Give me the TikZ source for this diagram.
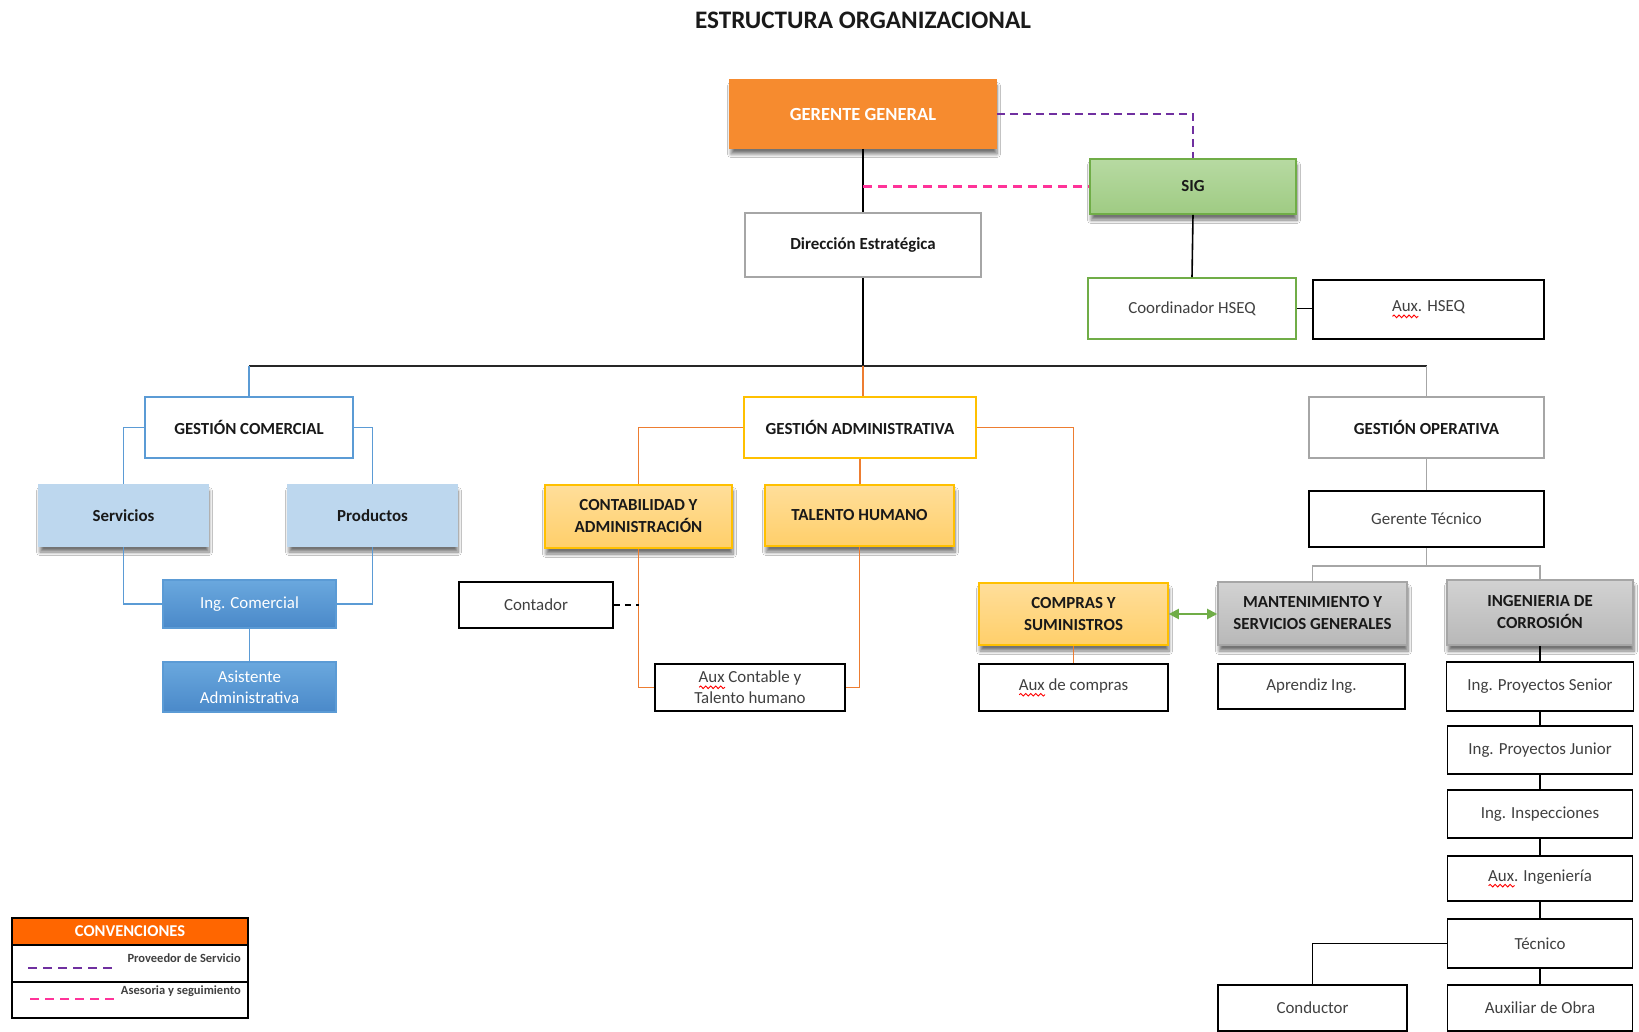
\documentclass[tikz,border=0pt]{standalone}
\usepackage{fontspec}
\setmainfont{Carlito}
\usetikzlibrary{shadows,shadows.blur,decorations.pathmorphing,arrows.meta}
\definecolor{gOrange}{HTML}{F68B2F}
\definecolor{sigTop}{HTML}{B7DAA2}
\definecolor{sigBot}{HTML}{9FCB83}
\definecolor{sigBorder}{HTML}{70AD47}
\definecolor{blueB}{HTML}{5B9BD5}
\definecolor{lightBlue}{HTML}{BDD7EE}
\definecolor{blueTop}{HTML}{6AA8DE}
\definecolor{blueBot}{HTML}{4A89C9}
\definecolor{gold}{HTML}{FFC000}
\definecolor{goldTop}{HTML}{FFDE9A}
\definecolor{goldBot}{HTML}{FFCF6A}
\definecolor{orangeLine}{HTML}{ED7D31}
\definecolor{grayB}{HTML}{A6A6A6}
\definecolor{grayTop}{HTML}{D2D2D2}
\definecolor{grayBot}{HTML}{B8B8B8}
\definecolor{purpleD}{HTML}{7030A0}
\definecolor{pinkD}{HTML}{FF3399}
\definecolor{legOrange}{HTML}{FF6600}
\definecolor{txtGray}{HTML}{404040}
\definecolor{greenA}{HTML}{70AD47}
\newsavebox\sqbox
\newcommand\sq[1]{\sbox\sqbox{#1}\rlap{\tikz[baseline=0pt,x=1pt,y=1pt]\draw[red,line width=0.9pt,decorate,decoration={snake,amplitude=1.3pt,segment length=5pt}] (0,-4.5) -- (\the\wd\sqbox,-4.5);}\usebox\sqbox}
\tikzset{
  base/.style={rectangle, line width=1.6pt, inner sep=2pt, align=center},
  bt/.style={font=\fontsize{16.9}{20}\selectfont\bfseries, text=black!90},
  rt/.style={font=\fontsize{16.9}{20}\selectfont, text=txtGray},
  shad/.style={blur shadow={shadow xshift=1pt, shadow yshift=-6pt, shadow blur radius=3.5pt, shadow blur steps=7, shadow opacity=55}},
  conn/.style={line width=1.6pt, draw=black},
  bconn/.style={line width=1.6pt, draw=blueB},
  oconn/.style={line width=1.6pt, draw=orangeLine},
  gconn/.style={line width=1.6pt, draw=grayB},
}
\begin{document}
\begin{tikzpicture}[x=1pt,y=-1pt]
\useasboundingbox[fill=white] (0,0) rectangle (1639,1032);
% title
\node[font=\fontsize{25.2}{29}\selectfont\bfseries, text=black!90] (title) at (863,20) {ESTRUCTURA ORGANIZACIONAL};
% top
\node[base, shad, fill=gOrange, draw=gOrange, minimum width=266, minimum height=68, font=\fontsize{18.5}{22}\selectfont\bfseries, text=white] (gg) at (863,114) {GERENTE GENERAL};
\node[base, shad, top color=sigTop, bottom color=sigBot, draw=sigBorder, minimum width=206, minimum height=55, bt] (sig) at (1193,186.5) {SIG};
\node[base, fill=white, draw=grayB, minimum width=236, minimum height=64, bt] (dir) at (863,245) {Dirección Estratégica};
\node[base, draw=sigBorder, minimum width=208, minimum height=61, rt] (coord) at (1192,308.5) {Coordinador HSEQ};
\node[base, draw=black, minimum width=231, minimum height=59, rt] (auxh) at (1428.5,309.5) {\sq{Aux}. HSEQ};
% comercial
\node[base, draw=blueB, minimum width=208, minimum height=61, bt] (gc) at (249,427.5) {GESTIÓN COMERCIAL};
\node[base, shad, fill=lightBlue, draw=lightBlue, minimum width=169, minimum height=61, bt] (serv) at (123.5,515.5) {Servicios};
\node[base, shad, fill=lightBlue, draw=lightBlue, minimum width=169, minimum height=61, bt] (prod) at (372.5,515.5) {Productos};
\node[base, top color=blueTop, bottom color=blueBot, draw=blueB, minimum width=173, minimum height=48, font=\fontsize{16.9}{20}\selectfont, text=white] (ingc) at (249.5,604) {Ing. Comercial};
\node[base, top color=blueTop, bottom color=blueBot, draw=blueB, minimum width=173, minimum height=50, font=\fontsize{16.9}{21}\selectfont, text=white] (asis) at (249.5,687) {Asistente\\Administrativa};
% administrativa
\node[base, draw=gold, minimum width=232, minimum height=61, bt] (ga) at (860,427.5) {GESTIÓN ADMINISTRATIVA};
\node[base, shad, top color=goldTop, bottom color=goldBot, draw=gold, minimum width=187, minimum height=63, bt, font=\fontsize{16.9}{22}\selectfont\bfseries] (cont) at (638.5,516.5) {CONTABILIDAD Y\\ADMINISTRACIÓN};
\node[base, shad, top color=goldTop, bottom color=goldBot, draw=gold, minimum width=189, minimum height=61, bt] (tal) at (859.5,515.5) {TALENTO HUMANO};
\node[base, draw=black, minimum width=154, minimum height=46, rt] (contador) at (536,605) {Contador};
\node[base, draw=black, minimum width=190, minimum height=47, rt, font=\fontsize{16.9}{21}\selectfont] (auxct) at (750,687.5) {\sq{Aux} Contable y\\Talento humano};
\node[base, shad, top color=goldTop, bottom color=goldBot, draw=gold, minimum width=189, minimum height=62, bt, font=\fontsize{16.9}{22}\selectfont\bfseries] (comp) at (1073.5,614) {COMPRAS Y\\SUMINISTROS};
\node[base, draw=black, minimum width=189, minimum height=47, rt] (auxcomp) at (1073.5,687.5) {\sq{Aux} de compras};
% operativa
\node[base, draw=grayB, minimum width=235, minimum height=61, bt] (go) at (1426.5,427.5) {GESTIÓN OPERATIVA};
\node[base, draw=black, minimum width=235, minimum height=56, rt] (gt) at (1426.5,519) {Gerente Técnico};
\node[base, shad, top color=grayTop, bottom color=grayBot, draw=grayB, minimum width=189, minimum height=63, bt, font=\fontsize{16.9}{22}\selectfont\bfseries] (mant) at (1312.5,613.5) {MANTENIMIENTO Y\\SERVICIOS GENERALES};
\node[base, shad, top color=grayTop, bottom color=grayBot, draw=grayB, minimum width=186, minimum height=65, bt, font=\fontsize{16.9}{22}\selectfont\bfseries] (ingcor) at (1540,612.5) {INGENIERIA DE\\CORROSIÓN};
\node[base, draw=black, minimum width=187, minimum height=45, rt] (apr) at (1311.5,686.5) {Aprendiz Ing.};
\node[base, draw=black, minimum width=187, minimum height=49, rt] (ips) at (1540,686.5) {Ing. Proyectos Senior};
\node[base, draw=black, minimum width=185, minimum height=48, rt] (ipj) at (1540,750) {Ing. Proyectos Junior};
\node[base, draw=black, minimum width=185, minimum height=48, rt] (ins) at (1540,814) {Ing. Inspecciones};
\node[base, draw=black, minimum width=185, minimum height=45, rt] (auxi) at (1540,878.5) {\sq{Aux}. Ingeniería};
\node[base, draw=black, minimum width=185, minimum height=49, rt] (tec) at (1540,943.5) {Técnico};
\node[base, draw=black, minimum width=185, minimum height=46, rt] (auxo) at (1540,1008) {Auxiliar de Obra};
\node[base, draw=black, minimum width=189, minimum height=46, rt] (cond) at (1312.5,1008) {Conductor};
% connectors top
\draw[conn] (gg.south) -- (dir.north);
\coordinate (pk) at (gg.south |- sig.west);
\draw[pinkD, line width=2.2pt, dash pattern=on 9pt off 6pt] (pk) -- (sig.west);
\draw[purpleD, line width=1.6pt, dash pattern=on 8pt off 5pt] (gg.east) -| (sig.north);
\draw[conn] (sig.south) -- (coord.north);
\draw[conn] (coord.east) -- (coord.east -| auxh.west);
\coordinate (hL) at (249,366);
\coordinate (hR) at (1426.5,366);
\coordinate (hM) at (dir.south |- hL);
\draw[conn] (dir.south) -- (hM);
\draw[line width=1.8pt, draw=black!85] (hL) -- (hR);
\draw[bconn] (hL) -- (gc.north);
\draw[oconn] (hM) -- (hM |- ga.north);
\draw[gconn] (hR) -- (go.north);
% comercial
\draw[bconn] (gc.west) -| (serv.north);
\draw[bconn] (gc.east) -| (prod.north);
\draw[bconn] (serv.south) |- (ingc.west);
\draw[bconn] (prod.south) |- (ingc.east);
\draw[bconn] (ingc.south) -- (asis.north);
% administrativa
\draw[oconn] (ga.west) -| (cont.north);
\draw[oconn] (ga.south) -- (ga.south |- tal.north);
\draw[oconn] (ga.east) -| (comp.north);
\draw[oconn] (cont.south) |- (auxct.west);
\draw[oconn] (tal.south) |- (auxct.east);
\draw[line width=1.6pt, dash pattern=on 6pt off 5pt] (contador.east) -- (contador.east -| cont.south);
\draw[oconn] (comp.south) -- (auxcomp.north);
\draw[greenA, line width=2pt, {Triangle[length=10pt,width=10pt]}-{Triangle[length=10pt,width=10pt]}] (comp.east) -- (comp.east -| mant.west);
% operativa
\draw[gconn] (go.south) -- (gt.north);
\draw[gconn] (gt.south) -- (gt.south |- 0,566) coordinate (gb);
\draw[gconn] (gb) -| (mant.north);
\draw[gconn] (gb) -| (ingcor.north);
\draw[conn] (ingcor.south) -- (ips.north);
\draw[conn] (ips.south) -- (ipj.north);
\draw[conn] (ipj.south) -- (ins.north);
\draw[conn] (ins.south) -- (auxi.north);
\draw[conn] (auxi.south) -- (tec.north);
\draw[conn] (tec.south) -- (auxo.north);
\draw[conn] (tec.west) -| (cond.north);
% legend
\node[rectangle, draw=black, line width=1.6pt, fill=legOrange, minimum width=236, minimum height=27, inner sep=0, font=\fontsize{16.5}{18}\selectfont\bfseries, text=white] (lh) at (130,931.5) {CONVENCIONES};
\node[rectangle, draw=black, line width=1.6pt, minimum width=236, minimum height=37, inner sep=0] (lr1) at (130,963.5) {};
\node[rectangle, draw=black, line width=1.6pt, minimum width=236, minimum height=36, inner sep=0] (lr2) at (130,1000) {};
\node[anchor=east, inner sep=0, font=\fontsize{12.5}{14}\selectfont\bfseries, text=txtGray] (lt1) at (241,958) {Proveedor de Servicio};
\node[anchor=east, inner sep=0, font=\fontsize{12.5}{14}\selectfont\bfseries, text=txtGray] (lt2) at (241,991) {Asesoria y seguimiento};
\coordinate (l1a) at (28,968); \coordinate (l1b) at (113,968);
\coordinate (l2a) at (30,999); \coordinate (l2b) at (114,999);
\draw[purpleD, line width=1.6pt, dash pattern=on 9pt off 6pt] (l1a) -- (l1b);
\draw[pinkD, line width=2.4pt, dash pattern=on 9pt off 6pt] (l2a) -- (l2b);
\end{tikzpicture}
\end{document}
